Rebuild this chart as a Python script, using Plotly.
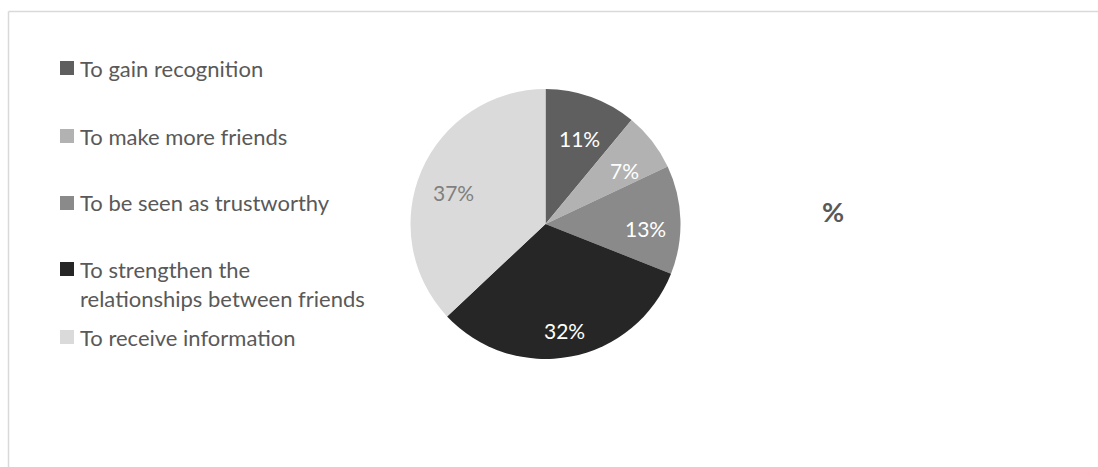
import math
import plotly.graph_objects as go

# Survey shares (percent) of reasons, clockwise from 12 o'clock
labels = [
    "To gain recognition",
    "To make more friends",
    "To be seen as trustworthy",
    "To strengthen the<br>relationships between friends",
    "To receive information",
]
values = [11, 7, 13, 32, 37]
colors = ["#5f5f5f", "#b2b2b2", "#8a8a8a", "#262626", "#dadada"]
text_colors = ["#ffffff", "#ffffff", "#ffffff", "#ffffff", "#7f7f7f"]
title_text = "%"

W, H = 1098, 467
FONT = "Lato, 'Open Sans', sans-serif"


def px_x(x):
    return x / W


def px_y(y):
    return 1 - y / H


# pie geometry in pixels
cx, cy, r = 545.5, 224, 135

fig = go.Figure()
fig.add_trace(
    go.Pie(
        labels=labels,
        values=values,
        sort=False,
        direction="clockwise",
        rotation=0,
        marker=dict(colors=colors, line=dict(width=0)),
        textinfo="none",
        showlegend=False,
        hoverinfo="label+percent",
        domain=dict(
            x=[px_x(cx - r), px_x(cx + r)],
            y=[px_y(cy + r), px_y(cy - r)],
        ),
    )
)

shapes = [
    # chart frame (top and left edges)
    dict(type="line", xref="paper", yref="paper",
         x0=px_x(8.5), x1=px_x(W), y0=px_y(11.5), y1=px_y(11.5),
         line=dict(color="#d9d9d9", width=1.5)),
    dict(type="line", xref="paper", yref="paper",
         x0=px_x(8.5), x1=px_x(8.5), y0=px_y(11.5), y1=px_y(H),
         line=dict(color="#d9d9d9", width=1.5)),
]
annotations = []

# percentage labels placed at each slice's mid angle
total = sum(values)
cum = 0
for v, tc in zip(values, text_colors):
    mid = (cum + v / 2) / total * 2 * math.pi
    cum += v
    lx = cx + 0.74 * r * math.sin(mid)
    ly = cy - 0.74 * r * math.cos(mid) + 8
    annotations.append(dict(
        text="%d%%" % v, xref="paper", yref="paper",
        x=px_x(lx), y=px_y(ly), xanchor="center", yanchor="middle",
        showarrow=False, font=dict(family=FONT, size=21, color=tc),
    ))

# hand-placed legend rows: marker centre y and text centre y
legend_marks = [68, 136, 203, 269, 337]
legend_texts = [68, 136, 203, 284, 337]
for lab, col, ym, yt in zip(labels, colors, legend_marks, legend_texts):
    shapes.append(dict(
        type="rect", xref="paper", yref="paper",
        x0=px_x(60), x1=px_x(74), y0=px_y(ym + 7), y1=px_y(ym - 7),
        fillcolor=col, line=dict(width=0),
    ))
    annotations.append(dict(
        text=lab, xref="paper", yref="paper",
        x=px_x(78), y=px_y(yt), xanchor="left", yanchor="middle",
        align="left", showarrow=False,
        font=dict(family=FONT, size=22, color="#595959"),
    ))

annotations.append(dict(
    text="<b>%s</b>" % title_text, xref="paper", yref="paper",
    x=px_x(833), y=px_y(211), xanchor="center", yanchor="middle",
    showarrow=False, font=dict(family=FONT, size=27, color="#595959"),
))

fig.update_layout(
    width=W, height=H,
    margin=dict(l=0, r=0, t=0, b=0),
    paper_bgcolor="#ffffff",
    plot_bgcolor="#ffffff",
    shapes=shapes,
    annotations=annotations,
)

fig.write_html("out.html")
